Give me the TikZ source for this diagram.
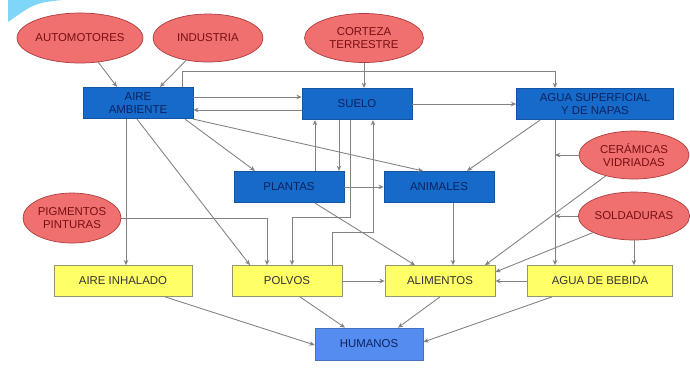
\documentclass[tikz,border=0pt]{standalone}
\usepackage{fontspec}
\setmainfont{Liberation Sans}
\usetikzlibrary{shapes.geometric,arrows.meta}
\definecolor{boxblue}{RGB}{22,106,202}
\definecolor{humblue}{RGB}{84,140,240}
\definecolor{navytext}{RGB}{10,35,95}
\definecolor{pinkfill}{RGB}{240,112,112}
\definecolor{pinkline}{RGB}{175,60,60}
\definecolor{redtext}{RGB}{120,15,15}
\definecolor{yelfill}{RGB}{255,255,102}
\definecolor{yelline}{RGB}{150,150,110}
\definecolor{linkgray}{RGB}{130,130,130}

\begin{document}
\begin{tikzpicture}[x=0.02cm,y=-0.02cm,>={Stealth[length=3pt,width=2.6pt]},
    font=\fontsize{6.5}{7.5}\selectfont,
    fuente/.style={ellipse,draw=pinkline,fill=pinkfill,text=redtext,inner sep=0pt,align=center,
        minimum width=2.2cm,minimum height=0.96cm},
    medio/.style={rectangle,draw=boxblue!80!black,fill=boxblue,text=navytext,inner sep=0pt,align=center,
        minimum width=2.2cm,minimum height=0.63cm},
    via/.style={rectangle,draw=yelline,fill=yelfill,text=black!80,inner sep=0pt,
        minimum width=2.2cm,minimum height=0.62cm},
    link/.style={->,draw=linkgray,line width=0.5pt}]
    \useasboundingbox (0,0) rectangle (690,370);
    \fill[cyan!50] (8,0) -- (62,0) .. controls (35,3) .. (8,22) -- cycle;

    % fuentes
    \node[fuente,minimum width=2.24cm,minimum height=1cm](auto)at(80,38){AUTOMOTORES};
    \node[fuente](indus)at(208,38){INDUSTRIA};
    \node[fuente,minimum width=2.38cm,minimum height=0.98cm](corteza)at(364,38){CORTEZA\\TERRESTRE};
    \node[fuente](ceram)at(634,155){CERÁMICAS\\VIDRIADAS};
    \node[fuente](solda)at(634,216){SOLDADURAS};
    \node[fuente,minimum width=1.96cm,minimum height=1cm](pigm)at(72,218){PIGMENTOS\\PINTURAS};

    % medios
    \node[medio](aire)at(138,103){AIRE\\AMBIENTE};
    \node[medio](suelo)at(357,104){SUELO};
    \node[medio,minimum width=3.14cm](agua)at(595,104){AGUA SUPERFICIAL\\Y DE NAPAS};
    \node[medio](plantas)at(289,187){PLANTAS};
    \node[medio](animales)at(439,187){ANIMALES};

    % vias
    \node[via,minimum width=2.76cm](inhal)at(123,281){AIRE INHALADO};
    \node[via](polvos)at(287,281){POLVOS};
    \node[via](alim)at(440,281){ALIMENTOS};
    \node[via,minimum width=2.9cm](bebida)at(600,281){AGUA DE BEBIDA};
    \node[medio,fill=humblue,draw=humblue!80!black,minimum width=2.16cm,minimum height=0.64cm](humanos)at(369,344){HUMANOS};

    \coordinate(c1)at(555,155);
    \coordinate(c2)at(555,216);

    \draw[link](auto)--(aire.north -| 117,0);
    \draw[link](indus)--(aire.north -| 160,0);
    \draw[link](corteza.south)--(suelo.north -| corteza.south);
    \draw[link](aire.north -| 182,0)--++(0,-15)-|(agua.north -| 555,0);
    \draw[link](aire.east |- 0,97)--(suelo.west |- 0,97);
    \draw[link](suelo.west |- 0,110)--(aire.east |- 0,110);
    \draw[link](suelo)--(agua);
    \draw[link](aire.south -| 185,0)--(plantas.north -| 255,0);
    \draw[link](aire.south east)--(animales.north -| 423,0);
    \draw[link](aire.south -| 137,0)--(polvos.north -| 250,0);
    \draw[link](aire.south -| 126,0)--(inhal.north -| 126,0);
    \draw[link](plantas.north -| 315,0)--(suelo.south -| 315,0);
    \draw[link](suelo.south -| 339,0)--(plantas.north -| 339,0);
    \draw[link](suelo.south -| 350,0)--(350,217)-|(polvos.north -| 292,0);
    \draw[link](polvos.north -| 332,0)--(332,232)-|(suelo.south -| 373,0);
    \draw[link](pigm.east)-|(polvos.north -| 267,0);
    \draw[link](plantas)--(animales);
    \draw[link](plantas.south -| 315,0)--(alim.north -| 415,0);
    \draw[link](animales.south -| 453,0)--(alim.north -| 453,0);
    \draw[link](agua.south -| 540,0)--(animales.north -| 467,0);
    \draw[link](agua.south -| 555,0)--(bebida.north -| 555,0);
    \draw[link](ceram.west)--(c1);
    \draw[link](solda.west)--(c2);
    \draw[link](ceram)--(alim.north -| 485,0);
    \draw[link](solda)--(alim.east |- 0,272);
    \draw[link](solda.south)--(bebida.north -| solda.south);
    \draw[link](bebida)--(alim);
    \draw[link](polvos)--(alim);
    \draw[link](inhal.south -| 165,0)--(humanos.west |- 0,345);
    \draw[link](polvos.south -| 300,0)--(humanos.north -| 345,0);
    \draw[link](alim.south -| 440,0)--(humanos.north -| 398,0);
    \draw[link](bebida.south -| 552,0)--(humanos.east |- 0,342);
\end{tikzpicture}
\end{document}
